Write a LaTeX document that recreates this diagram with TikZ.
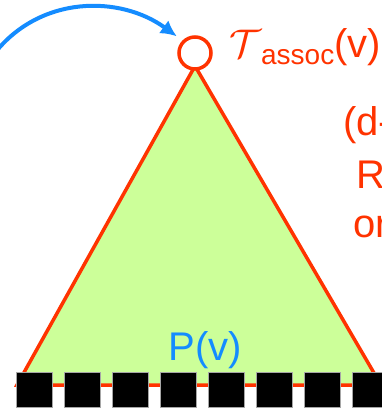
\RequirePackage{fix-cm}
\documentclass[tikz,border=0pt]{standalone}
\usepackage{fontspec}
\setmainfont{Liberation Sans}
\usetikzlibrary{arrows.meta}
\definecolor{redo}{RGB}{255,51,0}
\definecolor{blu}{RGB}{20,140,255}
\definecolor{grn}{RGB}{204,255,153}
\tikzset{
  leaf/.style={fill=black,draw=gray!70,line width=0.8pt},
  lbl/.style={anchor=base west,inner sep=0pt,text=redo,font=\fontsize{40}{48}\selectfont},
}
\begin{document}
\begin{tikzpicture}[x=1pt,y=-1pt]
\useasboundingbox (0,0) rectangle (382,410);
\clip (0,0) rectangle (382,410);
\fill[white] (0,0) rectangle (382,410);
% triangle
\coordinate (apex) at (195,66);
\coordinate (bl) at (17,385);
\coordinate (br) at (381,385);
\filldraw[fill=grn,draw=redo,line width=3.5pt,line join=miter] (apex) -- (br) -- (bl) -- cycle;
% root circle
\node[circle,draw=redo,fill=white,line width=3.5pt,minimum size=32pt,inner sep=0pt] (root) at (195,53) {};
% leaves
\foreach \i in {0,...,7}{
  \node[leaf,minimum width=36pt,minimum height=35pt,inner sep=0pt,anchor=north west] (s\i) at (16+48*\i,372) {};
}
% P(v)
\node[anchor=base,inner sep=0pt,text=blu,font=\fontsize{40}{48}\selectfont] (pv) at (205,360) {P(v)};
% T assoc
\node[lbl] (tassoc) at (229,57) {$\mathcal{T}$\raisebox{-7pt}{\fontsize{28}{28}\selectfont assoc}(v)};
\node[lbl] (t1) at (343,135) {(d-};
\node[lbl] (t2) at (356,188) {R};
\node[lbl] (t3) at (353,237) {or};
% arrow
\coordinate (start) at (-6,54);
\draw[blu,line width=4pt,shorten >=7pt,-{Latex[length=16pt,width=16pt]}] (start) .. controls (40,-5) and (120,-5) .. (root.north west);
\end{tikzpicture}
\end{document}
